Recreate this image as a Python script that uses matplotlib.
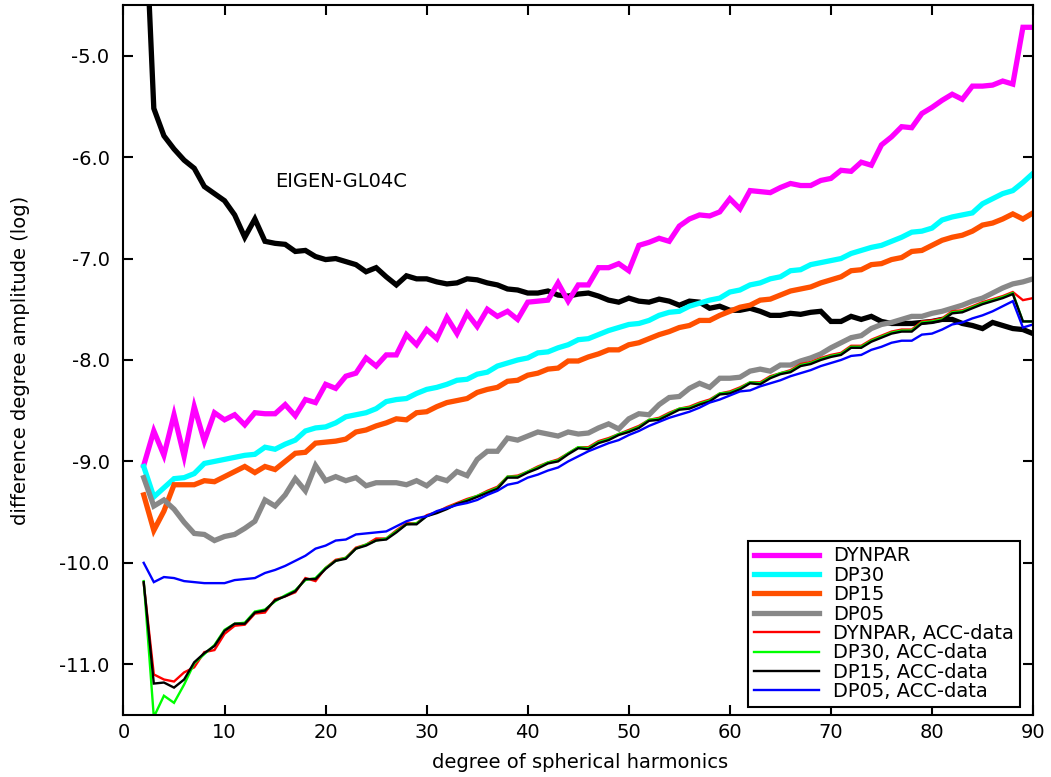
import matplotlib
matplotlib.use("Agg")
import matplotlib.pyplot as plt

plt.rcParams["font.family"] = ["DejaVu Sans"]
plt.rcParams["axes.unicode_minus"] = False

degrees = list(range(2, 91))

eigen_gl04c = [
    -3.25, -5.52, -5.79, -5.92, -6.03, -6.11, -6.29, -6.36, -6.43, -6.57,
    -6.79, -6.61, -6.83, -6.85, -6.86, -6.93, -6.92, -6.98, -7.01, -7.00,
    -7.03, -7.06, -7.13, -7.09, -7.18, -7.26, -7.17, -7.20, -7.20, -7.23,
    -7.25, -7.24, -7.20, -7.21, -7.24, -7.26, -7.30, -7.31, -7.34, -7.34,
    -7.32, -7.36, -7.37, -7.35, -7.34, -7.37, -7.41, -7.43, -7.39, -7.42,
    -7.43, -7.40, -7.42, -7.46, -7.42, -7.43, -7.49, -7.47, -7.51, -7.51,
    -7.49, -7.52, -7.56, -7.56, -7.54, -7.55, -7.53, -7.52, -7.62, -7.62,
    -7.57, -7.60, -7.57, -7.62, -7.64, -7.64, -7.64, -7.63, -7.62, -7.60,
    -7.60, -7.64, -7.66, -7.69, -7.63, -7.66, -7.69, -7.70, -7.74,
]

dynpar = [
    -9.04, -8.70, -8.94, -8.54, -8.95, -8.46, -8.80, -8.52, -8.59, -8.54,
    -8.64, -8.52, -8.53, -8.53, -8.44, -8.55, -8.39, -8.42, -8.24, -8.28,
    -8.16, -8.13, -7.98, -8.06, -7.95, -7.95, -7.75, -7.85, -7.70, -7.79,
    -7.58, -7.74, -7.54, -7.67, -7.50, -7.57, -7.52, -7.60, -7.43, -7.42,
    -7.41, -7.24, -7.42, -7.26, -7.26, -7.09, -7.09, -7.05, -7.12, -6.87,
    -6.84, -6.80, -6.83, -6.68, -6.61, -6.57, -6.58, -6.54, -6.41, -6.51,
    -6.33, -6.34, -6.35, -6.30, -6.26, -6.28, -6.28, -6.23, -6.21, -6.13,
    -6.14, -6.05, -6.08, -5.88, -5.80, -5.70, -5.71, -5.57, -5.51, -5.44,
    -5.38, -5.43, -5.30, -5.30, -5.29, -5.25, -5.28, -4.72, -4.72,
]

dp30 = [
    -9.05, -9.35, -9.26, -9.17, -9.16, -9.12, -9.02, -9.00, -8.98, -8.96,
    -8.94, -8.93, -8.86, -8.88, -8.83, -8.79, -8.70, -8.67, -8.66, -8.62,
    -8.56, -8.54, -8.52, -8.48, -8.41, -8.39, -8.38, -8.33, -8.29, -8.27,
    -8.24, -8.20, -8.19, -8.14, -8.12, -8.06, -8.03, -8.00, -7.98, -7.93,
    -7.92, -7.88, -7.85, -7.80, -7.79, -7.75, -7.71, -7.68, -7.65, -7.64,
    -7.61, -7.56, -7.53, -7.52, -7.47, -7.44, -7.41, -7.39, -7.33, -7.31,
    -7.26, -7.24, -7.20, -7.18, -7.12, -7.11, -7.06, -7.04, -7.02, -7.00,
    -6.95, -6.92, -6.89, -6.87, -6.83, -6.79, -6.74, -6.73, -6.70, -6.62,
    -6.59, -6.57, -6.55, -6.46, -6.41, -6.36, -6.33, -6.25, -6.16,
]

dp15 = [
    -9.33, -9.68, -9.49, -9.23, -9.23, -9.23, -9.19, -9.20, -9.15, -9.10,
    -9.05, -9.11, -9.05, -9.08, -9.00, -8.92, -8.91, -8.82, -8.81, -8.80,
    -8.78, -8.71, -8.69, -8.65, -8.62, -8.58, -8.59, -8.52, -8.51, -8.46,
    -8.42, -8.40, -8.38, -8.32, -8.29, -8.27, -8.21, -8.20, -8.15, -8.13,
    -8.09, -8.08, -8.01, -8.01, -7.97, -7.94, -7.90, -7.90, -7.85, -7.83,
    -7.79, -7.75, -7.72, -7.68, -7.66, -7.61, -7.61, -7.56, -7.52, -7.48,
    -7.46, -7.41, -7.40, -7.36, -7.32, -7.30, -7.28, -7.24, -7.21, -7.18,
    -7.12, -7.11, -7.06, -7.05, -7.01, -6.99, -6.93, -6.92, -6.87, -6.82,
    -6.79, -6.77, -6.73, -6.67, -6.65, -6.61, -6.56, -6.61, -6.55,
]

dp05 = [
    -9.16, -9.44, -9.38, -9.47, -9.60, -9.71, -9.72, -9.78, -9.74, -9.72,
    -9.66, -9.59, -9.38, -9.44, -9.33, -9.17, -9.29, -9.04, -9.19, -9.15,
    -9.19, -9.16, -9.24, -9.21, -9.21, -9.21, -9.23, -9.19, -9.24, -9.16,
    -9.19, -9.10, -9.14, -8.98, -8.90, -8.90, -8.77, -8.79, -8.75, -8.71,
    -8.73, -8.75, -8.71, -8.73, -8.72, -8.67, -8.63, -8.68, -8.58, -8.53,
    -8.54, -8.44, -8.37, -8.36, -8.28, -8.23, -8.27, -8.18, -8.18, -8.17,
    -8.11, -8.09, -8.11, -8.05, -8.05, -8.01, -7.98, -7.94, -7.88, -7.83,
    -7.78, -7.76, -7.69, -7.65, -7.63, -7.60, -7.57, -7.57, -7.54, -7.52,
    -7.49, -7.46, -7.42, -7.39, -7.34, -7.29, -7.25, -7.23, -7.20,
]

dynpar_acc = [
    -10.20, -11.10, -11.15, -11.17, -11.08, -11.03, -10.88, -10.86, -10.70, -10.62,
    -10.61, -10.50, -10.49, -10.36, -10.33, -10.29, -10.15, -10.18, -10.05, -9.97,
    -9.95, -9.85, -9.82, -9.76, -9.76, -9.68, -9.61, -9.61, -9.53, -9.50,
    -9.45, -9.41, -9.37, -9.34, -9.29, -9.25, -9.15, -9.14, -9.10, -9.05,
    -9.01, -8.98, -8.92, -8.86, -8.86, -8.80, -8.77, -8.73, -8.69, -8.65,
    -8.59, -8.57, -8.52, -8.48, -8.46, -8.42, -8.39, -8.33, -8.31, -8.27,
    -8.22, -8.22, -8.16, -8.13, -8.10, -8.04, -8.02, -7.98, -7.95, -7.93,
    -7.86, -7.86, -7.80, -7.76, -7.72, -7.70, -7.70, -7.62, -7.61, -7.59,
    -7.52, -7.51, -7.47, -7.43, -7.40, -7.37, -7.33, -7.41, -7.39,
]

dp30_acc = [
    -10.18, -11.52, -11.31, -11.38, -11.20, -10.99, -10.90, -10.81, -10.66, -10.60,
    -10.59, -10.48, -10.46, -10.38, -10.32, -10.27, -10.17, -10.15, -10.05, -9.98,
    -9.95, -9.86, -9.82, -9.78, -9.76, -9.69, -9.62, -9.61, -9.54, -9.50,
    -9.46, -9.42, -9.38, -9.34, -9.30, -9.26, -9.15, -9.15, -9.10, -9.06,
    -9.01, -8.99, -8.92, -8.86, -8.87, -8.81, -8.78, -8.73, -8.70, -8.66,
    -8.59, -8.58, -8.53, -8.48, -8.47, -8.43, -8.40, -8.33, -8.32, -8.28,
    -8.22, -8.23, -8.17, -8.13, -8.11, -8.05, -8.03, -7.99, -7.96, -7.94,
    -7.87, -7.87, -7.81, -7.77, -7.73, -7.71, -7.71, -7.63, -7.62, -7.60,
    -7.53, -7.52, -7.48, -7.44, -7.41, -7.38, -7.34, -7.62, -7.62,
]

dp15_acc = [
    -10.19, -11.19, -11.18, -11.23, -11.15, -10.98, -10.89, -10.82, -10.67, -10.60,
    -10.60, -10.49, -10.47, -10.37, -10.33, -10.28, -10.16, -10.16, -10.06, -9.98,
    -9.96, -9.86, -9.83, -9.78, -9.77, -9.70, -9.62, -9.62, -9.54, -9.51,
    -9.47, -9.42, -9.39, -9.35, -9.31, -9.27, -9.16, -9.16, -9.11, -9.07,
    -9.02, -9.00, -8.93, -8.87, -8.88, -8.82, -8.79, -8.74, -8.71, -8.67,
    -8.60, -8.59, -8.54, -8.49, -8.48, -8.44, -8.41, -8.34, -8.33, -8.29,
    -8.23, -8.24, -8.18, -8.14, -8.12, -8.06, -8.04, -8.00, -7.97, -7.95,
    -7.88, -7.88, -7.82, -7.78, -7.74, -7.72, -7.72, -7.64, -7.63, -7.61,
    -7.54, -7.53, -7.49, -7.45, -7.42, -7.39, -7.35, -7.62, -7.62,
]

dp05_acc = [
    -10.00, -10.19, -10.14, -10.15, -10.18, -10.19, -10.20, -10.20, -10.20, -10.17,
    -10.16, -10.15, -10.10, -10.07, -10.03, -9.98, -9.93, -9.86, -9.83, -9.78,
    -9.77, -9.72, -9.71, -9.70, -9.69, -9.64, -9.59, -9.56, -9.54, -9.49,
    -9.46, -9.43, -9.41, -9.38, -9.33, -9.29, -9.23, -9.21, -9.16, -9.13,
    -9.09, -9.06, -9.00, -8.95, -8.90, -8.86, -8.82, -8.79, -8.74, -8.70,
    -8.65, -8.61, -8.57, -8.54, -8.51, -8.47, -8.42, -8.39, -8.35, -8.31,
    -8.30, -8.26, -8.23, -8.20, -8.16, -8.13, -8.10, -8.06, -8.03, -8.00,
    -7.96, -7.95, -7.90, -7.87, -7.83, -7.81, -7.81, -7.75, -7.74, -7.70,
    -7.65, -7.63, -7.59, -7.56, -7.52, -7.47, -7.42, -7.68, -7.65,
]

x_ticks = [0, 10, 20, 30, 40, 50, 60, 70, 80, 90]
y_ticks = [-5.0, -6.0, -7.0, -8.0, -9.0, -10.0, -11.0]
y_tick_labels = ["-5.0", "-6.0", "-7.0", "-8.0", "-9.0", "-10.0", "-11.0"]

FS = 14

fig = plt.figure(figsize=(10.51, 7.77), dpi=100)
ax = fig.add_axes([0.1175, 0.0798, 0.8654, 0.9138])

thick = 3.8
thin = 1.7
ax.plot(degrees, eigen_gl04c, color="black", lw=thick, solid_joinstyle="miter")

series = [
    (dynpar, "#ff00ff", thick, "DYNPAR"),
    (dp30, "#00ffff", thick, "DP30"),
    (dp15, "#ff5000", thick, "DP15"),
    (dp05, "#888888", thick, "DP05"),
    (dynpar_acc, "#ff0000", thin, "DYNPAR, ACC-data"),
    (dp30_acc, "#00ff00", thin, "DP30, ACC-data"),
    (dp15_acc, "#000000", thin, "DP15, ACC-data"),
    (dp05_acc, "#0000ff", thin, "DP05, ACC-data"),
]
for values, color, lw, label in series:
    ax.plot(degrees, values, color=color, lw=lw, label=label,
            solid_joinstyle="miter")

ax.text(15.05, -6.24, "EIGEN-GL04C", fontsize=FS, ha="left", va="center")

ax.set_xlim(0, 90)
ax.set_ylim(-11.5, -4.5)
ax.set_xticks(x_ticks)
ax.set_yticks(y_ticks)
ax.set_yticklabels(y_tick_labels)
ax.tick_params(direction="in", length=7, width=1.5, labelsize=FS,
               top=True, right=True)
ax.tick_params(axis="x", pad=6)
ax.tick_params(axis="y", pad=10)
for sp in ax.spines.values():
    sp.set_linewidth(1.5)

ax.set_xlabel("degree of spherical harmonics", fontsize=FS)
ax.set_ylabel("difference degree amplitude (log)", fontsize=FS)
ax.xaxis.set_label_coords(0.502, -0.054)
ax.yaxis.set_label_coords(-0.103, 0.5)

leg = ax.legend(loc="lower right", bbox_to_anchor=(0.9857, 0.0113),
                fontsize=FS, frameon=True, fancybox=False, shadow=False,
                handlelength=3.35, handletextpad=0.75, labelspacing=0.02,
                borderpad=0.3, borderaxespad=0.0)
frame = leg.get_frame()
frame.set_edgecolor("black")
frame.set_linewidth(1.5)
frame.set_facecolor("white")
frame.set_alpha(1.0)

fig.savefig("out.png", dpi=100)
